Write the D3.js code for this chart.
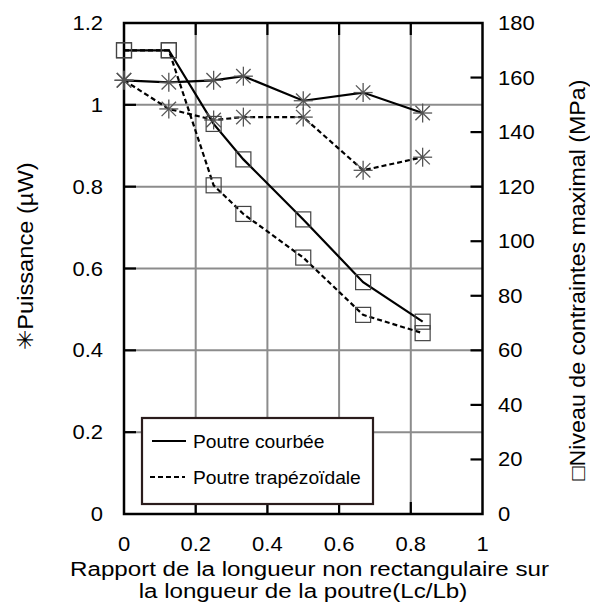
<!DOCTYPE html>
<html>
<head>
<meta charset="utf-8">
<script src="https://cdn.jsdelivr.net/npm/d3@7"></script>
<style>
  html, body { margin: 0; padding: 0; background: #fff; }
  svg { display: block; }
  text { font-family: "Liberation Sans", Arial, sans-serif; fill: #000; }
</style>
</head>
<body>
<svg id="chart" width="590" height="607"></svg>
<script>
// Ratio of non-rectangular length to beam length (Lc/Lb)
const ratios = [0, 0.125, 0.25, 0.333, 0.5, 0.667, 0.833];

// Output power (µW), left axis
const powerCurved = [1.06, 1.055, 1.06, 1.07, 1.01, 1.03, 0.98];
const powerTrapezoid = [1.06, 0.99, 0.963, 0.97, 0.97, 0.84, 0.872];

// Maximum stress level (MPa), right axis
const stressCurved = [170, 170, 143, 130, 108, 85, 70.5];
const stressTrapezoid = [170, 170, 120.5, 110, 94, 73, 66.3];

const xTicks = [0, 0.2, 0.4, 0.6, 0.8, 1];
const powerTicks = [0, 0.2, 0.4, 0.6, 0.8, 1, 1.2];
const stressTicks = [0, 20, 40, 60, 80, 100, 120, 140, 160, 180];

const legendLabels = ["Poutre courbée", "Poutre trapézoïdale"];
const xTitle = ["Rapport de la longueur non rectangulaire sur", "la longueur de la poutre(Lc/Lb)"];
const leftTitle = "\u2733Puissance (µW)";
const rightTitle = "\u25A1Niveau de contraintes maximal (MPa)";

const svg = d3.select("#chart");
const plotL = 124, plotR = 482.5, plotT = 23, plotB = 514;

const x = d3.scaleLinear().domain([0, 1]).range([plotL, plotR]);
const yP = d3.scaleLinear().domain([0, 1.2]).range([plotB, plotT]);
const yS = d3.scaleLinear().domain([0, 180]).range([plotB, plotT]);

// text helper: glyphs slightly widened along the reading direction
function label(g, str, tx, ty, opts = {}) {
  const rot = opts.rotate || 0;
  const sx = opts.sx || 1.1;
  return g.append("text")
    .attr("transform", `translate(${tx},${ty}) rotate(${rot}) scale(${sx},1)`)
    .attr("text-anchor", opts.anchor || "start")
    .attr("font-size", opts.size || 20)
    .text(str);
}

// grid
const grid = svg.append("g").attr("stroke", "#8c8c8c").attr("stroke-width", 2);
grid.selectAll("line.v").data(xTicks.slice(1, -1)).join("line").attr("class", "v")
  .attr("x1", d => x(d)).attr("x2", d => x(d)).attr("y1", plotT).attr("y2", plotB);
grid.selectAll("line.h").data(powerTicks.slice(1, -1)).join("line").attr("class", "h")
  .attr("x1", plotL).attr("x2", plotR).attr("y1", d => yP(d)).attr("y2", d => yP(d));

// ticks (inward)
const ticks = svg.append("g").attr("stroke", "#000").attr("stroke-width", 2.2);
const tl = 12;
xTicks.slice(1, -1).forEach(d => {
  ticks.append("line").attr("x1", x(d)).attr("x2", x(d)).attr("y1", plotB).attr("y2", plotB - tl);
  ticks.append("line").attr("x1", x(d)).attr("x2", x(d)).attr("y1", plotT).attr("y2", plotT + tl);
});
powerTicks.slice(1, -1).forEach(d => {
  ticks.append("line").attr("x1", plotL).attr("x2", plotL + tl).attr("y1", yP(d)).attr("y2", yP(d));
});
stressTicks.slice(1, -1).forEach(d => {
  ticks.append("line").attr("x1", plotR).attr("x2", plotR - tl).attr("y1", yS(d)).attr("y2", yS(d));
});

// frame
svg.append("rect").attr("x", plotL).attr("y", plotT)
  .attr("width", plotR - plotL).attr("height", plotB - plotT)
  .attr("fill", "none").attr("stroke", "#000").attr("stroke-width", 2.5);

// series lines
const series = [
  { vals: powerCurved, y: yP, dash: null, marker: "star" },
  { vals: powerTrapezoid, y: yP, dash: "5,3", marker: "star" },
  { vals: stressCurved, y: yS, dash: null, marker: "square" },
  { vals: stressTrapezoid, y: yS, dash: "5,3", marker: "square" }
];

series.forEach(s => {
  const line = d3.line().x((d, i) => x(ratios[i])).y(d => s.y(d));
  svg.append("path").datum(s.vals)
    .attr("d", line)
    .attr("fill", "none").attr("stroke", "#000").attr("stroke-width", 2.2)
    .attr("stroke-dasharray", s.dash);
});

// markers
series.forEach(s => {
  const g = svg.append("g");
  s.vals.forEach((v, i) => {
    const cx = x(ratios[i]), cy = s.y(v);
    if (s.marker === "square") {
      g.append("rect").attr("x", cx - 7.5).attr("y", cy - 7.5)
        .attr("width", 15).attr("height", 15)
        .attr("fill", "none").attr("stroke", "#444").attr("stroke-width", 1.2);
    } else {
      const r = 9.5, rd = 7.2;
      const arms = [[0, -r, 0, r], [-r, 0, r, 0], [-rd, -rd, rd, rd], [-rd, rd, rd, -rd]];
      arms.forEach(a => g.append("line")
        .attr("x1", cx + a[0]).attr("y1", cy + a[1]).attr("x2", cx + a[2]).attr("y2", cy + a[3])
        .attr("stroke", "#555").attr("stroke-width", 1.3));
    }
  });
});

// legend
const lg = svg.append("g");
lg.append("rect").attr("x", 142).attr("y", 418).attr("width", 231).attr("height", 86)
  .attr("fill", "#fff").attr("stroke", "#2a1c1c").attr("stroke-width", 2.2);
lg.append("line").attr("x1", 152).attr("x2", 186).attr("y1", 441).attr("y2", 441)
  .attr("stroke", "#000").attr("stroke-width", 2.2);
lg.append("line").attr("x1", 150).attr("x2", 185).attr("y1", 477).attr("y2", 477)
  .attr("stroke", "#000").attr("stroke-width", 2.2).attr("stroke-dasharray", "5,3");
label(lg, legendLabels[0], 193, 448, { size: 18.5, sx: 1.04 });
label(lg, legendLabels[1], 193, 483.5, { size: 18.5, sx: 1.04 });

// tick labels
const tg = svg.append("g");
const fmt = d => String(+d.toFixed(2));
powerTicks.forEach(d => label(tg, fmt(d), 103, yP(d) + 7, { anchor: "end" }));
stressTicks.forEach(d => label(tg, String(d), 498, yS(d) + 7, { anchor: "start" }));
xTicks.forEach(d => label(tg, fmt(d), x(d), 551, { anchor: "middle" }));

// axis titles
label(svg, xTitle[0], 309.5, 576, { anchor: "middle", size: 21, sx: 1.15 });
label(svg, xTitle[1], 303, 598, { anchor: "middle", size: 21, sx: 1.15 });
label(svg, leftTitle, 33, 256, { anchor: "middle", rotate: -90, size: 21.5, sx: 1.1 });
label(svg, rightTitle, 585, 280, { anchor: "middle", rotate: -90, size: 21.5, sx: 1.08 });
</script>
</body>
</html>
